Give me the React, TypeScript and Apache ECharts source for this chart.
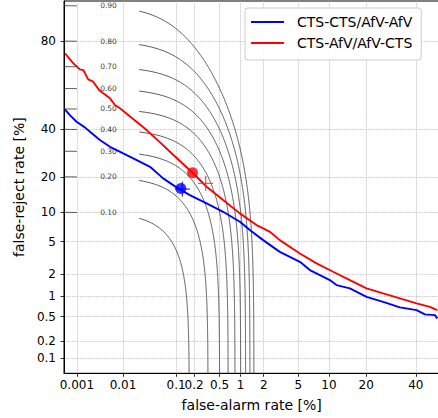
import React, { useEffect, useRef } from "react";
import * as echarts from "echarts";

// ---------- data (percent) ----------
const xTickValues = [0.001, 0.01, 0.1, 0.2, 0.5, 1, 2, 5, 10, 20, 40];
const xTickLabels = ["0.001", "0.01", "0.1", "0.2", "0.5", "1", "2", "5", "10", "20", "40"];
const yTickValues = [0.1, 0.2, 0.5, 1, 2, 5, 10, 20, 40, 80];
const yTickLabels = ["0.1", "0.2", "0.5", "1", "2", "5", "10", "20", "40", "80"];

const seriesNames = ["CTS-CTS/AfV-AfV", "CTS-AfV/AfV-CTS"];

const blueFa = [0.000525, 0.000687, 0.000983, 0.00152, 0.00198, 0.00327, 0.00537, 0.0101, 0.0188, 0.0338, 0.059, 0.1017, 0.1705, 0.317, 0.564, 0.975, 1.327, 1.97, 3.12, 5.2, 6.58, 10.19, 11.66, 15.06, 20.13, 26.11, 32.9, 40.3, 44.2, 48.9, 50];
const blueFr = [49.8, 46.95, 43.66, 40.94, 38.83, 34.95, 31.92, 29.06, 26.28, 23.64, 19.44, 16.51, 14.25, 12.06, 10.09, 8.07, 6.64, 5.18, 3.81, 2.89, 2.28, 1.685, 1.442, 1.299, 0.988, 0.836, 0.69, 0.628, 0.54, 0.527, 0.468];

const redFa = [0.000525, 0.000821, 0.00117, 0.0014, 0.00181, 0.00233, 0.00316, 0.00537, 0.00683, 0.00867, 0.0292, 0.0518, 0.0888, 0.189, 0.317, 0.564, 0.975, 1.62, 1.97, 2.38, 3.12, 5.2, 7.65, 10.89, 15.06, 20.13, 26.11, 32.9, 40.3, 46.5, 50];
const redFr = [75.5, 71.5, 68.8, 68.5, 64.3, 63.2, 59.2, 55.2, 51.9, 50.3, 39.64, 33.9, 28.46, 21.41, 16.7, 12.9, 9.75, 7.48, 6.91, 6.37, 5.18, 3.65, 2.77, 2.17, 1.685, 1.3, 1.105, 0.937, 0.792, 0.705, 0.628];

const blueCircle = [0.1207, 16.14];
const bluePlus = [0.128, 16.0];
const redCircle = [0.189, 21.41];
const redPlus = [0.306, 17.78];

// iso-cost contours: Pmiss + beta * Pfa = level
const costLevels = [0.1, 0.2, 0.3, 0.4, 0.5, 0.6, 0.7, 0.8, 0.9];
const costLabels = ["0.10", "0.20", "0.30", "0.40", "0.50", "0.60", "0.70", "0.80", "0.90"];
const costBeta = 60;
const costLabelFa = 0.005; // percent, where the inline labels sit
const costGapFrom = 0.001; // percent, contour broken for labels
const costGapTo = 0.021;

// ---------- probit helpers ----------
function ppf(p: number): number {
  const a = [-39.69683028665376, 220.9460984245205, -275.9285104469687, 138.357751867269, -30.66479806614716, 2.506628277459239];
  const b = [-54.47609879822406, 161.5858368580409, -155.6989798598866, 66.80131188771972, -13.28068155288572];
  const c = [-0.007784894002430293, -0.3223964580411365, -2.400758277161838, -2.549732539343734, 4.374664141464968, 2.938163982698783];
  const d = [0.007784695709041462, 0.3224671290700398, 2.445134137142996, 3.754408661907416];
  const pl = 0.02425;
  let q: number, r: number;
  if (p < pl) {
    q = Math.sqrt(-2 * Math.log(p));
    return (((((c[0] * q + c[1]) * q + c[2]) * q + c[3]) * q + c[4]) * q + c[5]) / ((((d[0] * q + d[1]) * q + d[2]) * q + d[3]) * q + 1);
  }
  if (p <= 1 - pl) {
    q = p - 0.5;
    r = q * q;
    return ((((((a[0] * r + a[1]) * r + a[2]) * r + a[3]) * r + a[4]) * r + a[5]) * q) / (((((b[0] * r + b[1]) * r + b[2]) * r + b[3]) * r + b[4]) * r + 1);
  }
  q = Math.sqrt(-2 * Math.log(1 - p));
  return -(((((c[0] * q + c[1]) * q + c[2]) * q + c[3]) * q + c[4]) * q + c[5]) / ((((d[0] * q + d[1]) * q + d[2]) * q + d[3]) * q + 1);
}
function erfc(x: number): number {
  const z = Math.abs(x);
  const t = 1 / (1 + 0.5 * z);
  const r = t * Math.exp(-z * z - 1.26551223 + t * (1.00002368 + t * (0.37409196 + t * (0.09678418 + t * (-0.18628806 + t * (0.27886807 + t * (-1.13520398 + t * (1.48851587 + t * (-0.82215223 + t * 0.17087277)))))))));
  return x >= 0 ? r : 2 - r;
}
function cdf(u: number): number {
  return 0.5 * erfc(-u / Math.SQRT2);
}
const pp = (pct: number) => ppf(pct / 100);

const X_MIN = pp(0.0005);
const X_MAX = pp(51);
const Y_MIN = pp(0.052);
const Y_MAX = pp(90.96);

function labelFor(values: number[], labels: string[]) {
  return (v: number) => {
    for (let i = 0; i < values.length; i++) if (Math.abs(pp(values[i]) - v) < 1e-6) return labels[i];
    return "";
  };
}

export default function App() {
  const ref = useRef<HTMLDivElement>(null);
  useEffect(() => {
    if (!ref.current) return;
    const chart = echarts.init(ref.current, undefined, { renderer: "svg" });
    const font = "DejaVu Sans";

    const contourSeries: any[] = [];
    costLevels.forEach((lv) => {
      const left: number[][] = [];
      for (const fa of [0.0005, 0.0007, costGapFrom]) {
        left.push([pp(fa), ppf(lv - (costBeta * fa) / 100)]);
      }
      const right: number[][] = [];
      const uStart = ppf(lv - (costBeta * costGapTo) / 100);
      for (let u = uStart; u > Y_MIN - 0.05; u -= 0.01) {
        const pm = cdf(u);
        const fa = (lv - pm) / costBeta;
        if (fa <= 0) continue;
        right.push([ppf(fa), u]);
      }
      const style = { color: "#333333", width: 0.8 };
      contourSeries.push({ type: "line", data: left, showSymbol: false, symbol: "none", lineStyle: style, silent: true, z: 1 });
      contourSeries.push({ type: "line", data: right, showSymbol: false, symbol: "none", lineStyle: style, silent: true, z: 1 });
    });

    const plusItems = [
      { p: bluePlus, color: "#0000ff" },
      { p: redPlus, color: "#ff2a2a" },
    ];
    const plusSeries: any[] = [];
    for (const size of [[15, 1.3], [1.3, 15]]) {
      plusSeries.push({
        type: "scatter",
        silent: true,
        symbol: "rect",
        symbolSize: size,
        data: plusItems.map((it) => ({ value: [pp(it.p[0]), pp(it.p[1])], itemStyle: { color: it.color } })),
        z: 6,
      });
    }

    chart.setOption({
      animation: false,
      grid: {
        left: 64,
        top: 1,
        width: (X_MAX - X_MIN) * 84.5,
        height: 372.3,
        show: true,
        borderColor: "#000",
        borderWidth: 1,
        backgroundColor: "transparent",
        outerBoundsMode: "none",
      },
      legend: {
        data: seriesNames,
        orient: "vertical",
        left: 245,
        top: 8,
        padding: [6, 9, 9, 6],
        itemWidth: 33,
        itemHeight: 2,
        icon: "rect",
        itemGap: 5,
        backgroundColor: "rgba(255,255,255,0.85)",
        borderColor: "#cccccc",
        borderWidth: 1,
        borderRadius: 3,
        textStyle: { fontFamily: font, fontSize: 14, color: "#000", lineHeight: 16, padding: [0, 0, 0, 8] },
      },
      xAxis: {
        type: "value",
        min: X_MIN,
        max: X_MAX,
        name: "false-alarm rate [%]",
        nameLocation: "middle",
        nameGap: 25,
        nameTextStyle: { fontFamily: font, fontSize: 14, color: "#000" },
        axisLine: { show: true, onZero: false, lineStyle: { color: "#000", width: 1 } },
        axisTick: { show: true, inside: false, length: 3.5, customValues: xTickValues.map(pp), lineStyle: { color: "#000", width: 0.8 } },
        axisLabel: { show: true, customValues: xTickValues.map(pp), margin: 6, fontFamily: font, fontSize: 12, color: "#000", formatter: labelFor(xTickValues, xTickLabels), hideOverlap: false },
        splitLine: { show: true, lineStyle: { color: "#b0b0b0", type: "dotted", width: 0.8 } },
      },
      yAxis: {
        type: "value",
        min: Y_MIN,
        max: Y_MAX,
        name: "false-reject rate [%]",
        nameLocation: "middle",
        nameGap: 32,
        nameTextStyle: { fontFamily: font, fontSize: 14, color: "#000" },
        axisLine: { show: true, onZero: false, lineStyle: { color: "#000", width: 1 } },
        axisTick: { show: true, inside: false, length: 3.5, customValues: yTickValues.map(pp), lineStyle: { color: "#000", width: 0.8 } },
        axisLabel: { show: true, customValues: yTickValues.map(pp), margin: 8, fontFamily: font, fontSize: 12, color: "#000", formatter: labelFor(yTickValues, yTickLabels), hideOverlap: false },
        splitLine: { show: true, lineStyle: { color: "#b0b0b0", type: "dotted", width: 0.8 } },
      },
      series: [
        ...contourSeries,
        {
          type: "scatter",
          silent: true,
          symbol: "circle",
          symbolSize: 1,
          itemStyle: { color: "rgba(0,0,0,0)" },
          label: { show: true, position: "inside", formatter: "{b}", fontFamily: font, fontSize: 7.5, color: "#000" },
          data: costLevels.map((lv, i) => ({ name: costLabels[i], value: [pp(costLabelFa), ppf(lv)] })),
          z: 2,
        },
        {
          name: seriesNames[0],
          type: "line",
          data: blueFa.map((fa, i) => [pp(fa), pp(blueFr[i])]),
          showSymbol: false,
          symbol: "none",
          color: "#0000ff",
          lineStyle: { color: "#0000ff", width: 1.9 },
          z: 3,
        },
        {
          name: seriesNames[1],
          type: "line",
          data: redFa.map((fa, i) => [pp(fa), pp(redFr[i])]),
          showSymbol: false,
          symbol: "none",
          color: "#ff0000",
          lineStyle: { color: "#ff0000", width: 1.9 },
          z: 3,
        },
        {
          type: "scatter",
          silent: true,
          symbol: "circle",
          symbolSize: 11,
          data: [
            { value: [pp(blueCircle[0]), pp(blueCircle[1])], itemStyle: { color: "#0000ff" } },
            { value: [pp(redCircle[0]), pp(redCircle[1])], itemStyle: { color: "#ff0000" } },
          ],
          z: 5,
        },
        ...plusSeries,
      ],
    });
    return () => chart.dispose();
  }, []);
  return <div ref={ref} style={{ position: "absolute", left: 0, top: 0, width: 438, height: 418 }} />;
}
